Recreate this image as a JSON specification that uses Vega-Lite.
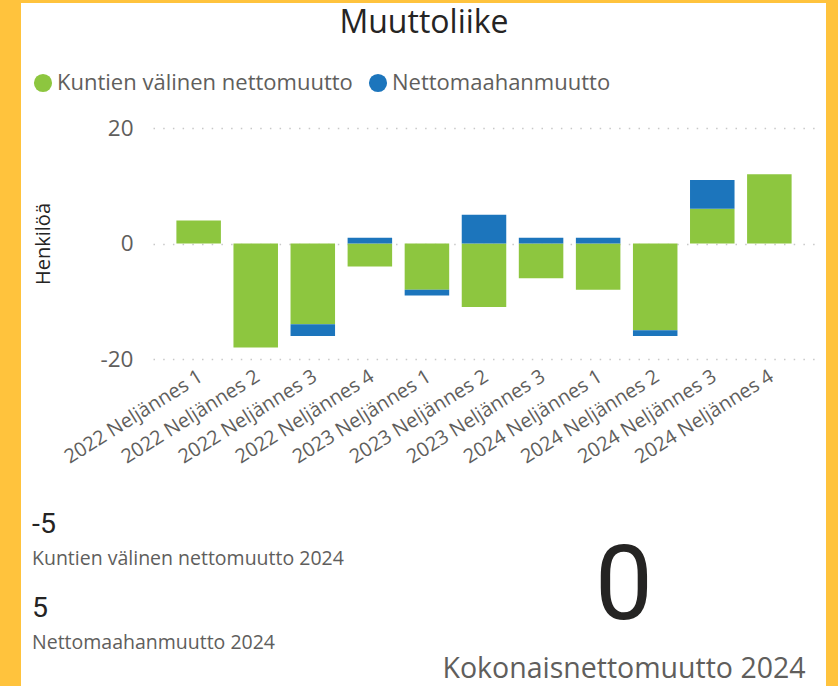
{
  "$schema": "https://vega.github.io/schema/vega-lite/v6.json",
  "background": "#ffffff",
  "padding": 0,
  "config": {
    "view": {"stroke": null},
    "font": "Open Sans",
    "locale": {"number": {"decimal": ",", "thousands": " ", "grouping": [3], "currency": ["", ""], "minus": "-"}}
  },
  "spacing": 0,
  "vconcat": [
    {
      "width": 838,
      "height": 3,
      "view": {"fill": "#FFC33D", "stroke": null},
      "data": {"values": []},
      "mark": "text",
      "encoding": {}
    },
    {
      "spacing": 11,
      "hconcat": [
        {
          "width": 21,
          "height": 683,
          "view": {"fill": "#FFC33D", "stroke": null},
          "data": {"values": []},
          "mark": "text",
          "encoding": {}
        },
        {
          "spacing": 0,
          "vconcat": [
            {
              "width": 1,
              "height": 3.5,
              "data": {"values": []},
              "mark": "text",
              "encoding": {}
            },
            {
              "spacing": 32,
              "vconcat": [
                {
                  "spacing": 0,
                  "hconcat": [
                    {
                      "width": 1,
                      "height": 1,
                      "data": {"values": []},
                      "mark": "text",
                      "encoding": {}
                    },
                    {
                      "width": 662,
                      "height": 231,
                      "title": {"text": "Muuttoliike", "font": "Open Sans", "fontSize": 32, "fontWeight": "normal", "color": "#252423", "anchor": "middle", "frame": "bounds", "offset": 77},
                      "data": {
                        "values": [
                          {"neljannes": "2022 Neljännes 1", "sarja": "Kuntien välinen nettomuutto", "henkiloa": 4},
                          {"neljannes": "2022 Neljännes 2", "sarja": "Kuntien välinen nettomuutto", "henkiloa": -18},
                          {"neljannes": "2022 Neljännes 3", "sarja": "Kuntien välinen nettomuutto", "henkiloa": -14},
                          {"neljannes": "2022 Neljännes 3", "sarja": "Nettomaahanmuutto", "henkiloa": -2},
                          {"neljannes": "2022 Neljännes 4", "sarja": "Kuntien välinen nettomuutto", "henkiloa": -4},
                          {"neljannes": "2022 Neljännes 4", "sarja": "Nettomaahanmuutto", "henkiloa": 1},
                          {"neljannes": "2023 Neljännes 1", "sarja": "Kuntien välinen nettomuutto", "henkiloa": -8},
                          {"neljannes": "2023 Neljännes 1", "sarja": "Nettomaahanmuutto", "henkiloa": -1},
                          {"neljannes": "2023 Neljännes 2", "sarja": "Kuntien välinen nettomuutto", "henkiloa": -11},
                          {"neljannes": "2023 Neljännes 2", "sarja": "Nettomaahanmuutto", "henkiloa": 5},
                          {"neljannes": "2023 Neljännes 3", "sarja": "Kuntien välinen nettomuutto", "henkiloa": -6},
                          {"neljannes": "2023 Neljännes 3", "sarja": "Nettomaahanmuutto", "henkiloa": 1},
                          {"neljannes": "2024 Neljännes 1", "sarja": "Kuntien välinen nettomuutto", "henkiloa": -8},
                          {"neljannes": "2024 Neljännes 1", "sarja": "Nettomaahanmuutto", "henkiloa": 1},
                          {"neljannes": "2024 Neljännes 2", "sarja": "Kuntien välinen nettomuutto", "henkiloa": -15},
                          {"neljannes": "2024 Neljännes 2", "sarja": "Nettomaahanmuutto", "henkiloa": -1},
                          {"neljannes": "2024 Neljännes 3", "sarja": "Kuntien välinen nettomuutto", "henkiloa": 6},
                          {"neljannes": "2024 Neljännes 3", "sarja": "Nettomaahanmuutto", "henkiloa": 5},
                          {"neljannes": "2024 Neljännes 4", "sarja": "Kuntien välinen nettomuutto", "henkiloa": 12}
                        ]
                      },
                      "mark": {"type": "bar"},
                      "encoding": {
                        "x": {
                          "field": "neljannes", "type": "nominal", "sort": null,
                          "scale": {"paddingInner": 0.22, "paddingOuter": 0.41},
                          "axis": {"title": null, "labelAngle": -32, "labelFont": "Open Sans", "labelFontSize": 19.8, "labelColor": "#605E5C", "labelPadding": 7, "labelOffset": -3, "domain": false, "ticks": false, "grid": false, "labelLimit": 0, "labelOverlap": false}
                        },
                        "y": {
                          "field": "henkiloa", "type": "quantitative", "stack": "zero",
                          "scale": {"domain": [-20, 20], "nice": false},
                          "axis": {"title": "Henkilöä", "titleFont": "Open Sans", "titleFontSize": 20, "titleColor": "#252423", "titleFontWeight": "normal", "titlePadding": 47, "values": [-20, 0, 20], "labelFont": "Open Sans", "labelFontSize": 22.5, "labelColor": "#605E5C", "labelPadding": 20, "domain": false, "ticks": false, "tickSize": 0, "grid": true, "gridColor": "#C8C8C8", "gridDash": [1.5, 8.2], "gridWidth": 1.5}
                        },
                        "color": {
                          "field": "sarja", "type": "nominal",
                          "scale": {"domain": ["Kuntien välinen nettomuutto", "Nettomaahanmuutto"], "range": ["#8DC63F", "#1C75BC"]},
                          "legend": {"title": null, "orient": "none", "legendX": 32, "legendY": 72, "direction": "horizontal", "symbolType": "circle", "symbolSize": 330, "symbolStrokeWidth": 0, "labelFont": "Open Sans", "labelFontSize": 22, "labelColor": "#605E5C", "labelOffset": 3, "columnPadding": 14, "padding": 0, "labelLimit": 0}
                        },
                        "order": {"field": "sarja", "sort": "ascending"}
                      }
                    }
                  ]
                },
                {
                  "spacing": 0,
                  "hconcat": [
                    {
                      "width": 401,
                      "height": 168.4,
                      "data": {"values": [
                        {"tunnus": "Kuntien välinen nettomuutto 2024", "arvo": -5},
                        {"tunnus": "Nettomaahanmuutto 2024", "arvo": 5}
                      ]},
                      "encoding": {
                        "x": {"datum": 0, "type": "quantitative", "scale": {"domain": [0, 1]}, "axis": null},
                        "y": {"field": "tunnus", "type": "nominal", "sort": null, "scale": {"type": "point", "padding": 0.5}, "axis": null}
                      },
                      "layer": [
                        {"mark": {"type": "text", "align": "left", "baseline": "alphabetic", "dy": -8, "font": "Roboto", "fontSize": 28.5, "color": "#252423"}, "encoding": {"text": {"field": "arvo", "type": "quantitative"}}},
                        {"mark": {"type": "text", "align": "left", "baseline": "alphabetic", "dy": 23.5, "font": "Open Sans", "fontSize": 19.5, "color": "#605E5C"}, "encoding": {"text": {"field": "tunnus", "type": "nominal"}}}
                      ]
                    },
                    {
                      "width": 382,
                      "height": 187,
                      "data": {"values": [
                        {"tunnus": "Kokonaisnettomuutto 2024", "arvo": 0}
                      ]},
                      "encoding": {
                        "x": {"datum": 0.5, "type": "quantitative", "scale": {"domain": [0, 1]}, "axis": null},
                        "y": {"field": "tunnus", "type": "nominal", "scale": {"type": "point", "padding": 0.5}, "axis": null}
                      },
                      "layer": [
                        {"mark": {"type": "text", "align": "center", "baseline": "alphabetic", "dy": 26.4, "font": "Roboto", "fontSize": 103, "color": "#252423", "clip": true}, "encoding": {"text": {"field": "arvo", "type": "quantitative"}}},
                        {"mark": {"type": "text", "align": "center", "baseline": "alphabetic", "dy": 85.5, "font": "Open Sans", "fontSize": 28.5, "color": "#605E5C"}, "encoding": {"text": {"field": "tunnus", "type": "nominal"}}}
                      ]
                    }
                  ]
                }
              ]
            }
          ]
        },
        {
          "width": 12,
          "height": 683,
          "view": {"fill": "#FFC33D", "stroke": null},
          "data": {"values": []},
          "mark": "text",
          "encoding": {}
        }
      ]
    }
  ]
}
